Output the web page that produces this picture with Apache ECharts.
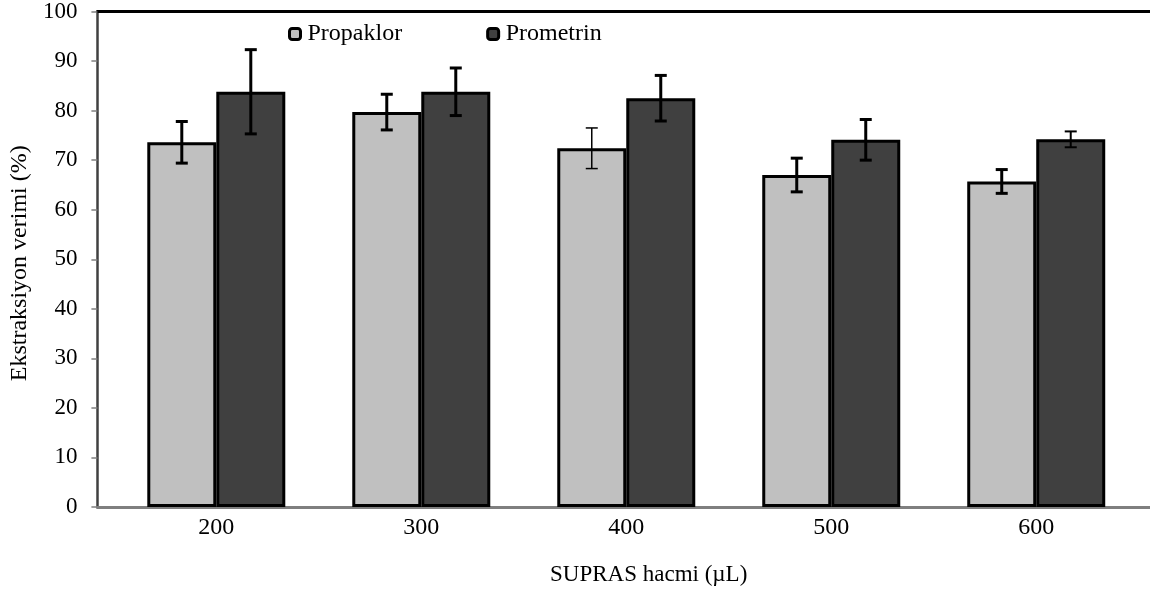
<!DOCTYPE html>
<html>
<head>
<meta charset="utf-8">
<script src="https://cdn.jsdelivr.net/npm/echarts@6/dist/echarts.min.js"></script>
<style>
  html, body { margin: 0; padding: 0; background: #fff; }
  #main { width: 1150px; height: 595px; }
</style>
</head>
<body>
<div id="main"></div>
<script>
// SUPRAS hacmi (µL)
var volumes = [200, 300, 400, 500, 600];
// ekstraksiyon verimi (%) ve hata payları
var propaklor = [73.6, 79.7, 72.4, 67.0, 65.7];
var propaklorErr = [4.2, 3.6, 4.1, 3.4, 2.4];
var prometrin = [83.8, 83.8, 82.5, 74.1, 74.2];
var prometrinErr = [8.5, 4.8, 4.6, 4.1, 1.6];
var yTicks = [0, 10, 20, 30, 40, 50, 60, 70, 80, 90, 100];

// hata çubuğu kalınlıkları (sadece görünüm)
var propaklorErrWidth = [3, 3, 1.5, 3, 3];
var prometrinErrWidth = [3, 3, 3, 3, 2];

var font = '"Liberation Serif", "DejaVu Serif", serif';
var barW = 69;

var chart = echarts.init(document.getElementById('main'));

function errData(vals, errs) {
    return volumes.map(function (v, i) {
        return [v, vals[i] - errs[i], vals[i] + errs[i], i];
    });
}

function errSeries(name, vals, errs, widths, offset) {
    return {
        type: 'custom',
        name: name + ' hata',
        xAxisIndex: 0,
        yAxisIndex: 0,
        z: 10,
        silent: true,
        data: errData(vals, errs),
        renderItem: function (params, api) {
            var top = api.coord([api.value(0), api.value(2)]);
            var bot = api.coord([api.value(0), api.value(1)]);
            var cx = top[0] + offset;
            var lw = widths[api.value(3)];
            var cap = 6;
            var st = { stroke: '#000', lineWidth: lw };
            return {
                type: 'group',
                children: [
                    { type: 'line', shape: { x1: cx, y1: top[1], x2: cx, y2: bot[1] }, style: st },
                    { type: 'line', shape: { x1: cx - cap, y1: top[1], x2: cx + cap, y2: top[1] }, style: st },
                    { type: 'line', shape: { x1: cx - cap, y1: bot[1], x2: cx + cap, y2: bot[1] }, style: st }
                ]
            };
        }
    };
}

var option = {
    backgroundColor: '#fff',
    animation: false,
    textStyle: { fontFamily: font, color: '#000' },
    grid: { left: 97, top: 11, width: 1063, bottom: 88, containLabel: false },
    legend: {
        left: 288,
        top: 22,
        padding: 0,
        itemWidth: 11,
        itemHeight: 11,
        itemGap: 84,
        icon: 'roundRect',
        data: ['Propaklor', 'Prometrin'],
        itemStyle: { borderColor: '#000', borderWidth: 3 },
        textStyle: { fontFamily: font, fontSize: 24, color: '#000', padding: [0, 0, 0, 2] }
    },
    xAxis: [{
        type: 'value',
        min: 142,
        max: 655.5,
        name: 'SUPRAS hacmi (µL)',
        nameLocation: 'middle',
        nameGap: 56,
        nameTextStyle: { fontFamily: font, fontSize: 23, color: '#000', padding: [0, 0, 0, 50] },
        splitLine: { show: false },
        axisTick: { show: false },
        axisLine: { lineStyle: { color: '#7f7f7f', width: 3 } },
        axisLabel: {
            customValues: volumes,
            fontFamily: font,
            fontSize: 24,
            color: '#000',
            margin: 9
        }
    }, {
        type: 'value',
        position: 'top',
        min: 142,
        max: 655.5,
        splitLine: { show: false },
        axisTick: { show: false },
        axisLabel: { show: false },
        axisLine: { lineStyle: { color: '#000', width: 3 } }
    }],
    yAxis: {
        type: 'value',
        min: 0,
        max: 100,
        interval: 10,
        name: 'Ekstraksiyon verimi (%)',
        nameLocation: 'middle',
        nameGap: 62,
        nameRotate: 90,
        nameTextStyle: { fontFamily: font, fontSize: 24, color: '#000', padding: [0, 8, 0, 0] },
        splitLine: { show: false },
        axisLine: { lineStyle: { color: '#404040', width: 2.5 } },
        axisTick: { length: 6, lineStyle: { color: '#808080', width: 1.5 } },
        axisLabel: {
            customValues: yTicks,
            fontFamily: font,
            fontSize: 23,
            color: '#000',
            margin: 20
        }
    },
    series: [{
        name: 'Propaklor',
        type: 'bar',
        barWidth: barW,
        barGap: '0%',
        data: volumes.map(function (v, i) { return [v, propaklor[i]]; }),
        itemStyle: { color: '#c0c0c0', borderColor: '#000', borderWidth: 3 }
    }, {
        name: 'Prometrin',
        type: 'bar',
        barWidth: barW,
        barGap: '0%',
        data: volumes.map(function (v, i) { return [v, prometrin[i]]; }),
        itemStyle: { color: '#404040', borderColor: '#000', borderWidth: 3 }
    },
    errSeries('Propaklor', propaklor, propaklorErr, propaklorErrWidth, -barW / 2),
    errSeries('Prometrin', prometrin, prometrinErr, prometrinErrWidth, barW / 2)
    ]
};

chart.setOption(option);
</script>
</body>
</html>
